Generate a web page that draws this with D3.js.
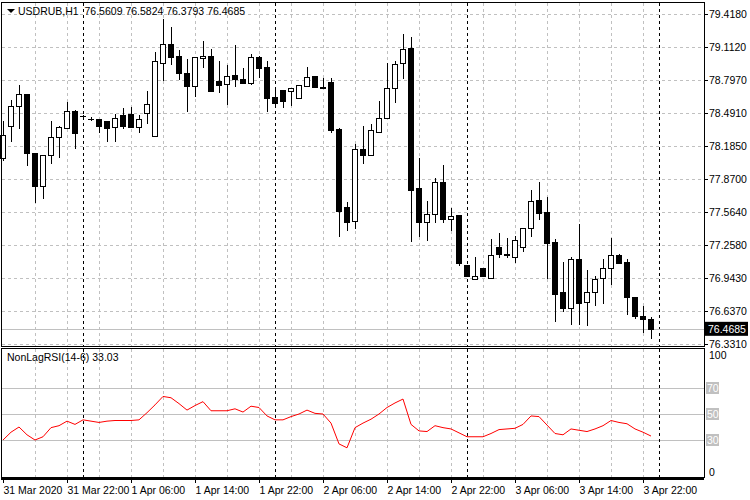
<!DOCTYPE html>
<html><head><meta charset="utf-8">
<script src="https://cdn.jsdelivr.net/npm/d3@7"></script>
<style>body{margin:0;background:#fff}svg{font-family:"Liberation Sans",Arial,sans-serif}</style>
</head><body><svg id="c" width="750" height="500"></svg>
<script>
const opens=[78.065,78.365,78.552,78.665,78.112,77.802,78.093,78.262,78.346,78.505,78.459,78.430,78.430,78.412,78.356,78.468,78.477,78.356,78.487,78.271,78.955,79.133,79.021,78.862,78.740,79.002,79.021,78.787,78.759,78.843,78.805,78.768,79.012,78.918,78.637,78.702,78.693,78.627,78.740,78.834,78.730,78.777,78.337,77.606,77.474,78.149,78.093,78.309,78.440,78.721,78.955,79.096,77.784,77.465,77.540,77.840,77.493,77.531,77.071,76.931,77.034,76.940,77.231,77.165,77.146,77.231,77.409,77.671,77.559,77.278,76.809,76.668,77.118,76.724,76.809,76.940,77.043,77.156,77.090,76.762,76.593,76.5609];
const highs=[78.412,78.609,78.749,78.665,78.112,78.093,78.412,78.365,78.590,78.515,78.468,78.449,78.430,78.412,78.477,78.534,78.543,78.468,78.693,79.059,79.368,79.293,79.077,78.993,79.012,79.162,79.087,78.974,78.937,79.124,78.909,79.040,79.021,78.974,78.702,78.702,78.721,78.749,78.918,78.834,78.815,78.815,78.346,77.652,78.196,78.365,78.384,78.599,78.955,78.974,79.227,79.199,78.065,77.662,77.877,77.999,77.596,77.531,77.071,77.137,77.034,77.306,77.362,77.324,77.334,77.409,77.765,77.840,77.699,77.306,77.099,77.137,77.446,77.024,76.968,77.127,77.324,77.174,77.118,76.762,76.678,76.5824];
const lows=[78.046,78.224,78.346,77.999,77.652,77.690,78.018,78.074,78.346,78.159,78.449,78.421,78.309,78.224,78.224,78.346,78.356,78.309,78.393,78.271,78.796,78.946,78.805,78.505,78.646,78.918,78.693,78.684,78.571,78.740,78.768,78.759,78.824,78.505,78.543,78.543,78.562,78.627,78.740,78.730,78.730,78.309,77.334,77.390,77.409,78.018,78.093,78.309,78.440,78.590,78.815,77.287,77.334,77.296,77.465,77.465,77.390,77.071,76.959,76.931,76.959,76.940,77.137,77.146,77.090,77.202,77.334,77.502,76.949,76.546,76.631,76.518,76.518,76.509,76.696,76.706,76.893,77.081,76.612,76.574,76.443,76.3793];
const closes=[78.280,78.552,78.665,78.112,77.802,78.093,78.262,78.356,78.505,78.299,78.459,78.431,78.365,78.346,78.440,78.365,78.356,78.430,78.571,78.974,79.133,79.012,78.862,78.740,79.012,79.021,78.693,78.749,78.834,78.805,78.768,79.012,78.909,78.627,78.581,78.599,78.721,78.749,78.824,78.730,78.728,78.327,77.568,77.465,78.149,78.093,78.327,78.440,78.721,78.946,79.087,77.765,77.465,77.540,77.840,77.493,77.521,77.081,76.959,76.968,76.959,77.156,77.165,77.156,77.296,77.409,77.662,77.549,77.268,76.799,76.668,77.118,76.715,76.809,76.931,77.043,77.156,77.081,76.762,76.593,76.556,76.4685];
const rsi=[30,36,40,34,30,32.5,39.5,41,44.5,42,45.5,44.5,43.5,44.5,45,45,45,45.5,51,57,63.5,62.5,58,53,56.5,59.5,52.5,52.5,52.5,54,51.5,56,55,48.5,45.5,45.5,48,50,53,50.5,50,43,27,24,39.5,43,46,50,55,58.5,61.5,42,37,36.5,41,39.5,38.5,35.5,32.5,32.5,32.5,35,38,38.5,39,42,48.5,48,41.5,35,34,38.5,37.5,36.5,38.5,41,45,43.5,42.5,38.5,36,33.03];
const priceTicks=[79.418,79.112,78.797,78.491,78.185,77.870,77.564,77.258,76.943,76.637,76.331];
const rsiLevels=[70,50,30];
const timeLabels=["31 Mar 2020","31 Mar 22:00","1 Apr 06:00","1 Apr 14:00","1 Apr 22:00","2 Apr 06:00","2 Apr 14:00","2 Apr 22:00","3 Apr 06:00","3 Apr 14:00","3 Apr 22:00"];
const daySeps=[10,34,58,82];
const title="USDRUB,H1  76.5609 76.5824 76.3793 76.4685";
const rsiTitle="NonLagRSI(14-6) 33.03";

const svg=d3.select("#c");
const n=opens.length;
const x=d3.scaleLinear().domain([0,1]).range([3,11]);
const y=d3.scaleLinear().domain([76.331,79.418]).range([343.5,14]);
const yr=d3.scaleLinear().domain([0,100]).range([479,349]);
const R=704;
const g=svg.append("g").attr("shape-rendering","crispEdges");
const vgrid=d3.range(4,n+2,4);
[[3,346],[349,478]].forEach(([a,b])=>{
  g.selectAll(null).data(vgrid).join("line").attr("x1",d=>Math.round(x(d))+.5).attr("x2",d=>Math.round(x(d))+.5)
   .attr("y1",a).attr("y2",b).attr("stroke","#c0c0c0").attr("stroke-dasharray","3,3");
});
g.selectAll(null).data(priceTicks).join("line").attr("x1",2).attr("x2",R).attr("y1",d=>Math.round(y(d))+.5).attr("y2",d=>Math.round(y(d))+.5)
 .attr("stroke","#c0c0c0").attr("stroke-dasharray","3,3");
g.selectAll(null).data(rsiLevels).join("line").attr("x1",2).attr("x2",R).attr("y1",d=>Math.round(yr(d))+.5).attr("y2",d=>Math.round(yr(d))+.5)
 .attr("stroke","#c0c0c0");
[[3,346],[349,478]].forEach(([a,b])=>{
  g.selectAll(null).data(daySeps).join("line").attr("x1",d=>Math.round(x(d))+.5).attr("x2",d=>Math.round(x(d))+.5)
   .attr("y1",a).attr("y2",b).attr("stroke","#000").attr("stroke-dasharray","3,3");
});
g.append("line").attr("x1",2).attr("x2",R).attr("y1",Math.round(y(closes[n-1]))+.5).attr("y2",Math.round(y(closes[n-1]))+.5).attr("stroke","#c0c0c0");
const idx=d3.range(n);
g.selectAll(null).data(idx).join("line").attr("x1",i=>Math.round(x(i))+.5).attr("x2",i=>Math.round(x(i))+.5)
 .attr("y1",i=>Math.round(y(highs[i]))).attr("y2",i=>Math.round(y(lows[i]))+1).attr("stroke","#000");
g.selectAll(null).data(idx).join("rect")
 .attr("x",i=>Math.round(x(i))-2.5).attr("width",5)
 .attr("y",i=>Math.round(y(Math.max(opens[i],closes[i])))+.5)
 .attr("height",i=>Math.max(0.01,Math.round(y(Math.min(opens[i],closes[i])))-Math.round(y(Math.max(opens[i],closes[i])))))
 .attr("fill",i=>closes[i]>=opens[i]?"#fff":"#000").attr("stroke","#000");
svg.append("path").datum(rsi).attr("fill","none").attr("stroke","#ff0000").attr("stroke-width",1)
 .attr("d",d3.line().x((d,i)=>x(i)).y(d=>yr(d)));
g.append("rect").attr("x",1.5).attr("y",2.5).attr("width",R-1.5).attr("height",344).attr("fill","none").attr("stroke","#000");
g.append("rect").attr("x",1.5).attr("y",348.5).attr("width",R-1.5).attr("height",129).attr("fill","none").attr("stroke","#000");
g.append("line").attr("x1",1).attr("x2",R).attr("y1",478.5).attr("y2",478.5).attr("stroke","#000").attr("stroke-width",2);
const fs="10.5px";
g.selectAll(null).data(priceTicks).join("line").attr("x1",R).attr("x2",R+4).attr("y1",d=>Math.round(y(d))+.5).attr("y2",d=>Math.round(y(d))+.5).attr("stroke","#000");
svg.selectAll(null).data(priceTicks).join("text").attr("x",709).attr("y",d=>y(d)+4).attr("font-size",fs).text(d=>d.toFixed(4));
const lc=closes[n-1];
svg.append("rect").attr("x",705).attr("y",y(lc)-7).attr("width",43).attr("height",14).attr("fill","#000");
svg.append("text").attr("x",708).attr("y",y(lc)+4).attr("font-size",fs).attr("fill","#fff").text(lc.toFixed(4));
svg.append("text").attr("x",709).attr("y",yr(100)+10).attr("font-size",fs).text("100");
svg.append("text").attr("x",709).attr("y",yr(0)-3).attr("font-size",fs).text("0");
rsiLevels.forEach(v=>{
  svg.append("rect").attr("x",706).attr("y",yr(v)-6).attr("width",13).attr("height",12).attr("fill","#c0c0c0");
  svg.append("text").attr("x",707).attr("y",yr(v)+4).attr("font-size",fs).attr("fill","#fff").text(v);
});
timeLabels.forEach((t,k)=>{
  const xi=Math.round(x(k*8))+.5;
  g.append("line").attr("x1",xi).attr("x2",xi).attr("y1",479).attr("y2",483).attr("stroke","#000");
  svg.append("text").attr("x",xi).attr("y",494).attr("font-size",fs).text(t);
});
svg.append("path").attr("d","M7,9 L15,9 L11,13 Z").attr("fill","#000");
svg.append("text").attr("x",18).attr("y",15).attr("font-size",fs).attr("xml:space","preserve").text(title);
svg.append("text").attr("x",7).attr("y",361).attr("font-size",fs).text(rsiTitle);
</script></body></html>
